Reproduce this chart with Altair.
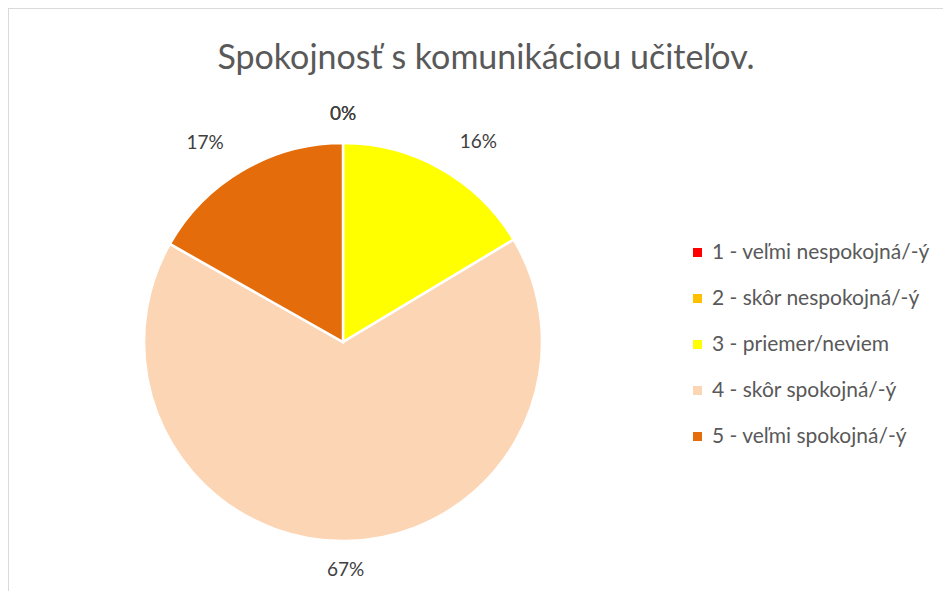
import altair as alt
import pandas as pd

categories = [
    "1 - veľmi nespokojná/-ý",
    "2 - skôr nespokojná/-ý",
    "3 - priemer/neviem",
    "4 - skôr spokojná/-ý",
    "5 - veľmi spokojná/-ý",
]
shares = [0.0, 0.0, 0.164, 0.668, 0.168]
colors = ["#FF0000", "#FFC000", "#FFFF00", "#FCD5B4", "#E46C0A"]
title_text = "Spokojnosť s komunikáciou učiteľov."

df = pd.DataFrame({"cat": categories, "share": shares, "idx": list(range(len(categories)))})

W, H = 935, 583
CX, CY, R = 335, 334, 199

base = alt.Chart(df)

pie = base.mark_arc(radius=R, stroke="white", strokeWidth=2.5).encode(
    theta=alt.Theta("share:Q", stack=True),
    color=alt.Color(
        "cat:N",
        scale=alt.Scale(domain=categories, range=colors),
        legend=alt.Legend(
            title=None,
            orient="none",
            legendX=679,
            legendY=234,
            symbolType="square",
            symbolSize=81,
            symbolStrokeWidth=0,
            labelFont="Lato",
            labelFontSize=21,
            labelColor="#595959",
            labelOffset=4,
            rowPadding=24,
            padding=0,
            labelLimit=400,
        ),
    ),
    order=alt.Order("idx:Q"),
    x=alt.value(CX),
    y=alt.value(CY),
)

labels = (
    base.transform_window(cum="sum(share)", sort=[alt.SortField("idx")])
    .transform_joinaggregate(total="sum(share)")
    .transform_calculate(
        mid="(datum.cum - datum.share/2) / datum.total * 2 * PI",
    )
    .transform_calculate(
        lx=f"{CX} + 216*sin(datum.mid) + (abs(sin(datum.mid)) > 0.1 ? 29*(sin(datum.mid) > 0 ? 1 : -1) : 0)",
        ly=f"{CY} - 216*cos(datum.mid) - (abs(cos(datum.mid)) > 0.1 ? 12*(cos(datum.mid) > 0 ? 1 : -1) : 0)",
    )
    .mark_text(font="Lato", fontSize=19, color="#404040", align="center", baseline="middle")
    .encode(
        x=alt.X("lx:Q", scale=None, axis=None),
        y=alt.Y("ly:Q", scale=None, axis=None),
        text=alt.Text("share:Q", format=".0%"),
    )
)

title = alt.Chart(pd.DataFrame({"t": [title_text]})).mark_text(
    font="Lato", fontSize=34, color="#595959", align="center", baseline="alphabetic"
).encode(text="t:N", x=alt.value(478), y=alt.value(61))

border_left = alt.Chart(pd.DataFrame({"a": [0]})).mark_rule(color="#D9D9D9", strokeWidth=1.5).encode(
    x=alt.value(0), y=alt.value(0), y2=alt.value(H)
)
border_top = alt.Chart(pd.DataFrame({"a": [0]})).mark_rule(color="#D9D9D9", strokeWidth=1.5).encode(
    x=alt.value(0), x2=alt.value(W), y=alt.value(0)
)

chart = (
    alt.layer(border_left, border_top, pie, labels, title)
    .properties(width=W, height=H, autosize=alt.AutoSizeParams(type="none"), padding=0)
    .configure_view(stroke=None)
    .configure(background="white")
)

chart.save("out.html", embed_options={"renderer": "svg", "actions": False})
